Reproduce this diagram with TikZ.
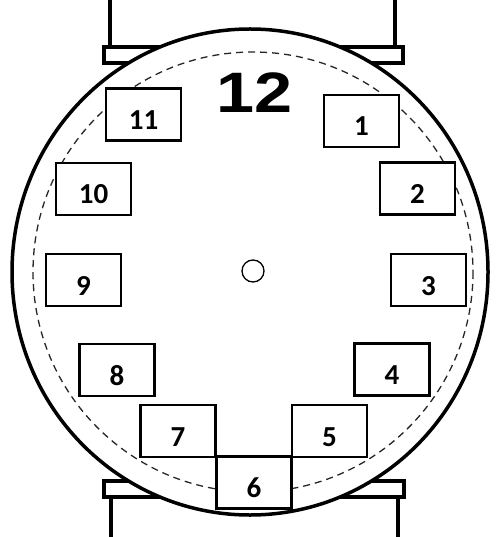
\documentclass[tikz,border=0pt]{standalone}
\usepackage{fontspec}
\newfontfamily\numfont{Carlito}
\newfontfamily\bigfont{Liberation Sans}
\begin{document}
\begin{tikzpicture}[x=1pt,y=-1pt,
  numbox/.style={draw=black,fill=white,line width=2.2pt,rectangle,inner sep=0pt,
    minimum width=75pt,minimum height=52pt,text height=30pt,text depth=0pt,
    font=\numfont\bfseries\fontsize{29}{31}\selectfont},
  strap/.style={line width=4pt},
  bar/.style={line width=3.5pt}]
\useasboundingbox (0,0) rectangle (497,537);
% straps and bars
\coordinate (tl0) at (110,0); \coordinate (tl1) at (110,47);
\coordinate (tr0) at (395,0); \coordinate (tr1) at (395,47);
\coordinate (bl0) at (111,537); \coordinate (bl1) at (111,497);
\coordinate (br0) at (398,537); \coordinate (br1) at (398,497);
\draw[strap] (tl0) -- (tl1);
\draw[strap] (tr0) -- (tr1);
\draw[strap] (bl0) -- (bl1);
\draw[strap] (br0) -- (br1);
\draw[bar] (104,47) rectangle (403,63);
\draw[bar] (104,481) rectangle (404,497);
% face
\coordinate (c) at (250,272);
\draw[line width=3.5pt,fill=white] (c) ellipse [x radius=238, y radius=243];
\draw[line width=1.3pt,dash pattern=on 7pt off 5pt,draw=black!85] (253,272) circle [radius=220];
\node[draw,circle,line width=1.3pt,minimum size=22pt,inner sep=0pt] (hub) at (253,271) {};
% hour boxes
\node[numbox] (b11) at (143.5,114.5) {11};
\node[numbox] (b1)  at (361.5,121) {1};
\node[numbox] (b2)  at (417.5,188.5) {2};
\node[numbox] (b3)  at (428.5,280) {3};
\node[numbox] (b4)  at (392,369.5) {4};
\node[numbox] (b5)  at (329.5,431) {5};
\node[numbox] (b6)  at (254,482.5) {6};
\node[numbox] (b7)  at (178,431) {7};
\node[numbox] (b8)  at (117,370) {8};
\node[numbox] (b9)  at (83.5,280) {9};
\node[numbox] (b10) at (93.5,189) {10};
\node[anchor=base,inner sep=0pt,font=\bigfont\bfseries\fontsize{57}{60}\selectfont,xscale=1.2,transform shape] (b12) at (255,113) {12};
\end{tikzpicture}
\end{document}
